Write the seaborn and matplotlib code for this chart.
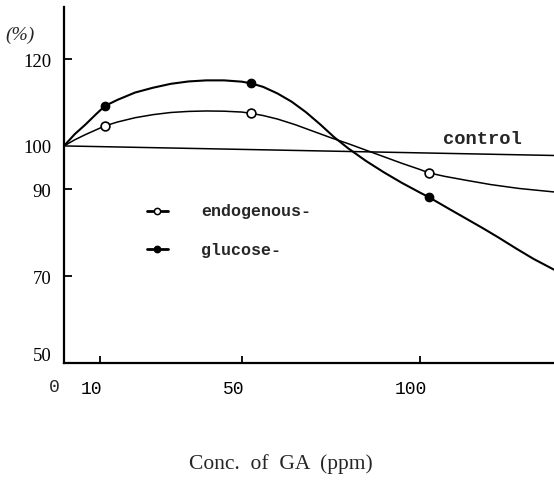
import matplotlib
matplotlib.use("Agg")
import matplotlib.pyplot as plt
import seaborn as sns
from matplotlib.lines import Line2D
from matplotlib.transforms import ScaledTranslation

# ---- data ----
# smooth curves (conc. of GA in ppm, % of control)
glucose_curve_x = [0, 3, 6, 9, 11.5, 15, 20, 25, 30, 35, 40, 45, 50, 52.7, 56, 60,
                   64, 68, 72, 76, 80, 85, 90, 95, 100, 102.6, 108.5, 113, 117.9,
                   122, 127.3, 132, 137.8]
glucose_curve_y = [100, 102.7, 104.9, 107.3, 109.2, 110.6, 112.3, 113.4, 114.3,
                   114.85, 115.1, 115.1, 114.8, 114.4, 113.6, 112.1, 110.2, 107.8,
                   105.0, 102.0, 99.4, 96.5, 93.9, 91.5, 89.3, 88.2, 85.4, 83.3,
                   81.0, 79.0, 76.3, 74.0, 71.5]
endo_curve_x = [0, 3, 6, 9, 11.5, 15, 20, 25, 30, 35, 40, 45, 50, 52.7, 56, 60, 65,
                70, 75, 80, 85, 90, 95, 100, 102.6, 107, 113, 120, 128, 137.8]
endo_curve_y = [100, 101.4, 102.6, 103.7, 104.6, 105.5, 106.5, 107.2, 107.7, 107.95,
                108.05, 108.0, 107.8, 107.5, 107.0, 106.2, 104.9, 103.4, 101.9, 100.5,
                99.0, 97.5, 96.0, 94.6, 93.8, 93.0, 92.1, 91.1, 90.2, 89.4]
control_x = [0, 137.8]
control_y = [100, 97.8]

# measured points
conc_points = [11.5, 52.7, 102.6]
endo_points = [104.6, 107.5, 93.8]
glucose_points = [109.2, 114.4, 88.2]

x_ticks = [10, 50, 100]
x_tick_labels = ["10", "50", "100"]
y_ticks = [50, 70, 90, 100, 120]
y_tick_labels = ["50", "70", "90", "100", "120"]

# ---- figure ----
sns.set_style("white")
plt.rcParams['font.family'] = ['Liberation Serif', 'DejaVu Serif']

W, H = 554, 481
fig = plt.figure(figsize=(W / 100, H / 100), dpi=100)
ax = fig.add_axes([64 / W, 1 - 364 / H, 1 - 64 / W, (364 - 8) / H])


def fx(px):
    return px / W


def fy(py):
    return 1 - py / H


sns.lineplot(x=control_x, y=control_y, sort=False, estimator=None,
             color='black', lw=1.1, ax=ax)
sns.lineplot(x=endo_curve_x, y=endo_curve_y, sort=False, estimator=None,
             color='black', lw=1.1, ax=ax)
sns.lineplot(x=glucose_curve_x, y=glucose_curve_y, sort=False, estimator=None,
             color='black', lw=1.5, ax=ax)
sns.scatterplot(x=conc_points, y=endo_points, marker='o', s=40,
                facecolor='white', edgecolor='black', linewidth=1.2, zorder=5, ax=ax)
sns.scatterplot(x=conc_points, y=glucose_points, marker='o', s=36,
                color='black', edgecolor='black', linewidth=1.0, zorder=5, ax=ax)

ax.set_xlim(0, 137.8)
ax.set_ylim(50, 132)
for s in ['top', 'right']:
    ax.spines[s].set_visible(False)
for s in ['left', 'bottom']:
    ax.spines[s].set_color('black')
    ax.spines[s].set_linewidth(1.6)

ax.set_xticks(x_ticks)
ax.set_xticklabels(x_tick_labels, fontfamily='Liberation Mono', fontsize=13)
ax.set_yticks(y_ticks)
ax.set_yticklabels(y_tick_labels, fontsize=13.5)
ax.tick_params(axis='x', bottom=True, direction='in', length=5, width=1.3, pad=12,
               colors='black')
ax.tick_params(axis='y', left=True, direction='in', length=6, width=1.3, pad=9,
               colors='black')
yt = ax.yaxis.get_major_ticks()
yt[0].tick1line.set_visible(False)
yt[3].tick1line.set_visible(False)

for lbl in ax.get_xticklabels():
    lbl.set_transform(lbl.get_transform() + ScaledTranslation(-6 / 72, 0, fig.dpi_scale_trans))
ylbls = ax.get_yticklabels()
ylbls[0].set_transform(ylbls[0].get_transform() + ScaledTranslation(0, 7 / 72, fig.dpi_scale_trans))

ax.set_xlabel("")
ax.set_ylabel("")

# origin "0"
fig.text(fx(54), fy(388), "0", ha='center', va='center', fontsize=13,
         family='Liberation Mono')
# unit
fig.text(fx(20), fy(35), "(%)", ha='center', va='center', fontsize=14, style='italic')
# control label
fig.text(fx(443), fy(140), "control", ha='left', va='center', fontsize=13.5,
         family='Liberation Mono', weight='bold')
# axis title
fig.text(fx(281), fy(464), "Conc.  of  GA  (ppm)", ha='center', va='center',
         fontsize=15.5)

# hand-made legend
for (py, filled, label) in [(211.7, False, "endogenous-"), (250, True, "glucose-")]:
    fig.add_artist(Line2D([fx(147), fx(153)], [fy(py), fy(py)], color='black', lw=2,
                          transform=fig.transFigure))
    fig.add_artist(Line2D([fx(161), fx(168)], [fy(py), fy(py)], color='black', lw=2,
                          transform=fig.transFigure))
    fig.add_artist(Line2D([fx(157)], [fy(py)], marker='o', markersize=4.5,
                          markerfacecolor='black' if filled else 'white',
                          markeredgecolor='black', markeredgewidth=1.1, linestyle='none',
                          transform=fig.transFigure))
    fig.text(fx(201), fy(py), label, ha='left', va='center', fontsize=12,
             family='Liberation Mono', weight='bold')

fig.savefig("out.png", dpi=100)
